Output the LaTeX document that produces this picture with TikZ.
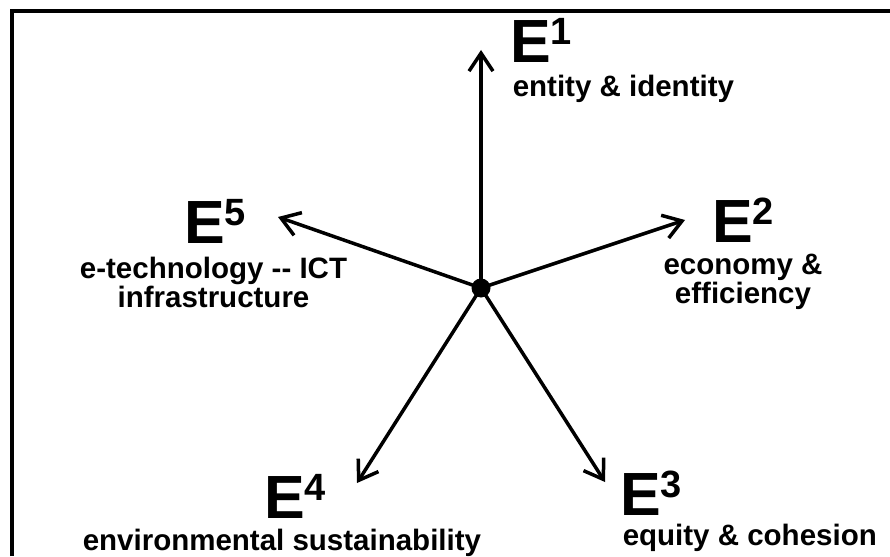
\documentclass[tikz,border=0pt]{standalone}
\usepackage{fontspec}
\setmainfont{Liberation Sans}
\usetikzlibrary{arrows.meta}
\newcommand{\Ebig}[1]{\bfseries\fontsize{61}{61}\selectfont E\raisebox{18pt}{\fontsize{38}{38}\selectfont #1}}

\begin{document}
\begin{tikzpicture}[x=1pt,y=-1pt,line width=3.5pt,
    big/.style={inner sep=0pt,anchor=base west,font=\bfseries},
    sub/.style={inner sep=0pt,align=center,font=\bfseries\fontsize{29.5}{28.5}\selectfont},
    spoke/.style={-{Straight Barb[length=18pt,width=24pt]}}]
    \useasboundingbox (0,0) rectangle (890,556);
    \draw (12,556) |- (890,11);
    \node[circle,fill,inner sep=0pt,minimum size=19pt] (hub) at (481,288) {};
    % tips of the five spokes
    \coordinate (t1) at (481,50);
    \coordinate (t2) at (685,220);
    \coordinate (t3) at (605,482);
    \coordinate (t4) at (357,483);
    \coordinate (t5) at (278,217);
    \foreach \i in {1,...,5}
      \draw[spoke] (hub.center) -- (t\i);
    \node[big] (e1) at (508.5,63) {\Ebig{1}};
    \node[big] (e2) at (710.5,242) {\Ebig{2}};
    \node[big] (e3) at (618.5,515) {\Ebig{3}};
    \node[big] (e4) at (262.5,518) {\Ebig{4}};
    \node[big] (e5) at (182.5,243) {\Ebig{5}};
    \node[sub,anchor=base west] (n1) at (511,97) {entity \& identity};
    \node[sub,anchor=base] (n2) at (743,303) {economy \&\\efficiency};
    \node[sub,anchor=base west] (n3) at (621,545) {equity \& cohesion};
    \node[sub,anchor=base west] (n4) at (81,550) {environmental sustainability};
    \node[sub,anchor=base] (n5) at (213.5,307) {e-technology \mbox{-}\mbox{-} ICT\\infrastructure};
\end{tikzpicture}
\end{document}
